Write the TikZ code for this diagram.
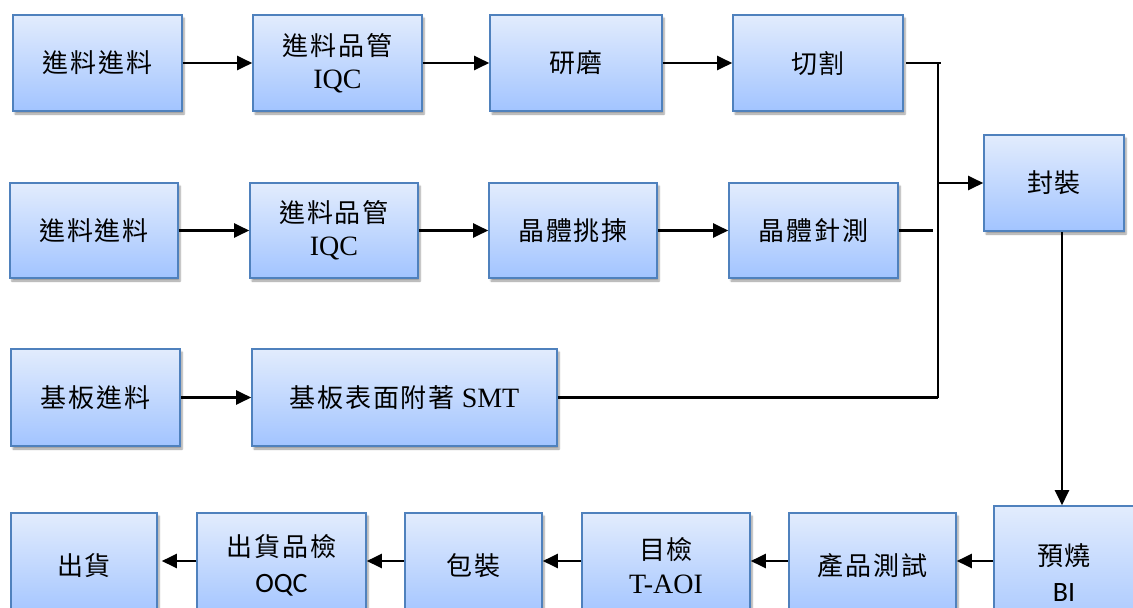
\documentclass[tikz,border=0pt]{standalone}
\usepackage{fontspec}
\setmainfont{Liberation Serif}
\newfontfamily\cjkfam[LetterSpace=7]{Noto Sans CJK TC}
\newcommand\cj[1]{{\cjkfam\fontsize{26}{32}\selectfont #1}}
\newfontfamily\carl{Carlito}
\usetikzlibrary{arrows.meta,shadows.blur}
\definecolor{bdr}{RGB}{79,129,189}
\definecolor{topc}{RGB}{226,236,253}
\definecolor{botc}{RGB}{162,196,255}
\begin{document}
\begin{tikzpicture}[x=1pt,y=-1pt,
 box/.style={draw=bdr, line width=1.6pt, top color=topc, bottom color=botc, inner sep=0pt, align=center,
   font=\fontsize{28}{32}\selectfont,
   blur shadow={shadow xshift=2pt, shadow yshift=-3pt, shadow blur steps=5, shadow opacity=40}},
 conn/.style={line width=2.2pt, black},
 arr/.style={conn, -{Triangle[length=15pt,width=14pt]}}]
\useasboundingbox (0,0) rectangle (1133,608);
\clip (0,0) rectangle (1133,608);
% row 1
\node[box, minimum width=169pt, minimum height=96pt] (A1) at (97.5,63) {\cj{進料進料}};
\node[box, minimum width=169pt, minimum height=96pt] (A2) at (337.5,63) {\cj{進料品管}\\[1pt]IQC};
\node[box, minimum width=172pt, minimum height=96pt] (A3) at (576,63) {\cj{研磨}};
\node[box, minimum width=170pt, minimum height=96pt] (A4) at (818,63) {\cj{切割}};
% row 2
\node[box, minimum width=168pt, minimum height=95pt] (B1) at (94,230.5) {\cj{進料進料}};
\node[box, minimum width=168pt, minimum height=95pt] (B2) at (334,230.5) {\cj{進料品管}\\[1pt]IQC};
\node[box, minimum width=168pt, minimum height=95pt] (B3) at (573,230.5) {\cj{晶體挑揀}};
\node[box, minimum width=169pt, minimum height=95pt] (B4) at (813.5,230.5) {\cj{晶體針測}};
\node[box, minimum width=140pt, minimum height=96pt] (F) at (1054,183) {\cj{封裝}};
% row 3
\node[box, minimum width=169pt, minimum height=97pt] (C1) at (95.5,397.5) {\cj{基板進料}};
\node[box, minimum width=305pt, minimum height=97pt] (C2) at (404.5,397.5) {\cj{基板表面附著} SMT};
% row 4
\node[box, minimum width=146pt, minimum height=105pt] (D1) at (84,565.5) {\cj{出貨}};
\node[box, minimum width=169pt, minimum height=105pt] (D2) at (281.5,565.5) {\cj{出貨品檢}\\[4pt]{\carl OQC}};
\node[box, minimum width=137pt, minimum height=105pt] (D3) at (473.5,565.5) {\cj{包裝}};
\node[box, minimum width=168pt, minimum height=105pt] (D4) at (666,565.5) {\cj{目檢}\\[2pt]T-AOI};
\node[box, minimum width=167pt, minimum height=105pt] (D5) at (872.5,565.5) {\cj{產品測試}};
\node[box, minimum width=140pt, minimum height=134pt] (D6) at (1064,573) {\cj{預燒}\\[4pt]{\carl BI}};
% connectors
\draw[arr] (A1.east) -- (A2.west);
\draw[arr] (A2.east) -- (A3.west);
\draw[arr] (A3.east) -- (A4.west);
\draw[arr] (B1.east) -- (B2.west);
\draw[arr] (B2.east) -- (B3.west);
\draw[arr] (B3.east) -- (B4.west);
\draw[arr] (C1.east) -- (C2.west);
\coordinate (jt) at (941,63);
\coordinate (vt) at (938,63);
\coordinate (vb) at (938,398);
\coordinate (bj) at (933,230.5);
\draw[conn] ([xshift=2pt]A4.east) -- (jt);
\draw[conn] (vt) -- (vb);
\draw[conn] (B4.east) -- (bj);
\draw[conn] (C2.east) -- (vb |- C2.east);
\draw[arr] (vt |- F.west) -- (F.west);
\coordinate (vx) at (1062,0);
\draw[arr] (vx |- F.south) -- (vx |- D6.north);
\coordinate (yb) at (0,561);
\draw[arr] (D6.west |- yb) -- (D5.east |- yb);
\draw[arr] (D5.west |- yb) -- (D4.east |- yb);
\draw[arr] (D4.west |- yb) -- (D3.east |- yb);
\draw[arr] (D3.west |- yb) -- (D2.east |- yb);
\draw[arr, shorten >=4pt] (D2.west |- yb) -- (D1.east |- yb);
\end{tikzpicture}
\end{document}
